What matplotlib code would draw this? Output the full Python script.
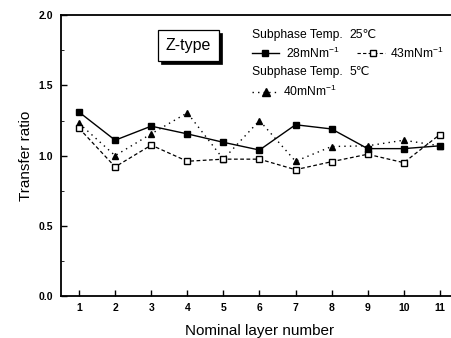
import matplotlib
matplotlib.use("Agg")
import matplotlib.pyplot as plt
from matplotlib.lines import Line2D
from matplotlib.patches import Rectangle

plt.rcParams['font.family'] = ['Liberation Sans', 'DejaVu Sans']
plt.rcParams['mathtext.fontset'] = 'custom'
plt.rcParams['mathtext.rm'] = 'Liberation Sans'

layers = [1, 2, 3, 4, 5, 6, 7, 8, 9, 10, 11]
ratio_25c_28 = [1.31, 1.11, 1.21, 1.155, 1.095, 1.04, 1.22, 1.19, 1.05, 1.05, 1.07]
ratio_25c_43 = [1.195, 0.92, 1.075, 0.96, 0.975, 0.975, 0.90, 0.957, 1.01, 0.95, 1.15]
ratio_5c_40 = [1.23, 1.00, 1.155, 1.305, 0.975, 1.25, 0.96, 1.065, 1.07, 1.11, 1.07]

fig = plt.figure(figsize=(4.52, 3.38), dpi=100)
ax = fig.add_axes([0.135, 0.124, 0.878, 0.831])

ax.plot(layers, ratio_5c_40, linestyle=(0, (1, 3)), color='black', lw=1.0,
        marker='^', markersize=5, markerfacecolor='black')
ax.plot(layers, ratio_25c_43, linestyle=(0, (3, 2)), color='black', lw=0.9,
        marker='s', markersize=4.5, markerfacecolor='white', markeredgewidth=1.0)
ax.plot(layers, ratio_25c_28, linestyle='-', color='black', lw=1.0,
        marker='s', markersize=4.5, markerfacecolor='black')

ax.set_xlim(0.5, 11.5)
ax.set_ylim(0, 2.0)
ax.set_xticks(layers)
ax.set_yticks([0.0, 0.5, 1.0, 1.5, 2.0])
ax.set_yticks([0.25, 0.75, 1.25, 1.75], minor=True)
ax.tick_params(axis='both', direction='in', labelsize=7.5, width=1.0)
ax.tick_params(axis='y', which='minor', direction='in', length=2.5)
ax.tick_params(axis='x', length=4, pad=5)
ax.tick_params(axis='y', length=4, pad=6)
for lab in ax.get_xticklabels() + ax.get_yticklabels():
    lab.set_fontweight('bold')
for s in ax.spines.values():
    s.set_linewidth(1.3)

ax.set_xlabel('Nominal layer number', fontsize=11, labelpad=8)
ax.set_ylabel('Transfer ratio', fontsize=11, labelpad=4)

# Z-type label box with drop shadow
bx, by, bw, bh = 0.244, 0.836, 0.154, 0.111
ax.add_patch(Rectangle((bx + 0.007, by - 0.009), bw, bh, transform=ax.transAxes,
                       facecolor='black', edgecolor='black', lw=0.5))
ax.add_patch(Rectangle((bx, by), bw, bh, transform=ax.transAxes,
                       facecolor='white', edgecolor='black', lw=0.9))
ax.text(bx + bw / 2, by + bh / 2, 'Z-type', transform=ax.transAxes,
        ha='center', va='center', fontsize=11.5)

# legend block
fs = 8.7
rows = [0.929, 0.865, 0.797, 0.728]
ax.text(0.480, rows[0], 'Subphase Temp.', transform=ax.transAxes, fontsize=fs, va='center')
ax.text(0.728, rows[0], '25℃', transform=ax.transAxes, fontsize=fs, va='center')
ax.add_line(Line2D([0.480, 0.549], [rows[1]] * 2, transform=ax.transAxes, color='black', lw=1.0))
ax.plot([0.514], [rows[1]], transform=ax.transAxes, marker='s', markersize=4.5, color='black')
ax.text(0.567, rows[1], '28mNm$^{-1}$', transform=ax.transAxes, fontsize=fs, va='center')
ax.add_line(Line2D([0.746, 0.816], [rows[1]] * 2, transform=ax.transAxes,
                   color='black', lw=0.8, linestyle=(0, (3, 2))))
ax.plot([0.786], [rows[1]], transform=ax.transAxes, marker='s', markersize=4.5,
        color='black', markerfacecolor='white')
ax.text(0.829, rows[1], '43mNm$^{-1}$', transform=ax.transAxes, fontsize=fs, va='center')
ax.text(0.480, rows[2], 'Subphase Temp.', transform=ax.transAxes, fontsize=fs, va='center')
ax.text(0.728, rows[2], '5℃', transform=ax.transAxes, fontsize=fs, va='center')
ax.add_line(Line2D([0.481, 0.545], [rows[3]] * 2, transform=ax.transAxes,
                   color='black', lw=1.0, linestyle=(0, (1, 3))))
ax.plot([0.516], [rows[3]], transform=ax.transAxes, marker='^', markersize=5.5, color='black')
ax.text(0.559, rows[3], '40mNm$^{-1}$', transform=ax.transAxes, fontsize=fs, va='center')

fig.savefig('out.png', dpi=100)
